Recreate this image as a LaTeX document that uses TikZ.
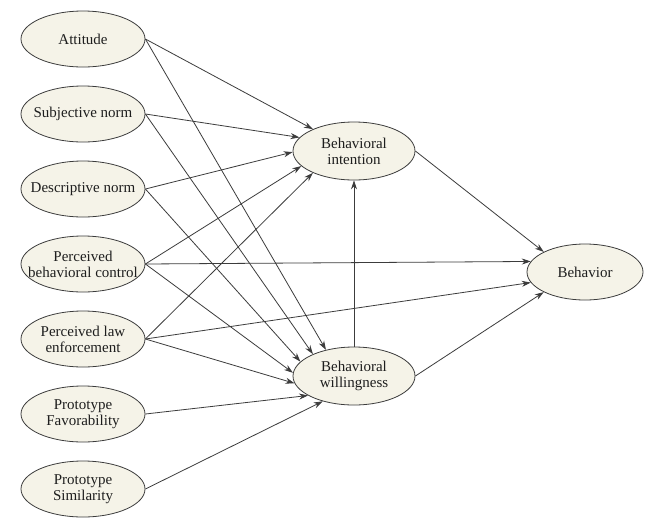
\documentclass[tikz,border=0pt]{standalone}
\usepackage{fontspec}
\setmainfont{Liberation Serif}
\usetikzlibrary{shapes.geometric,arrows.meta}
\definecolor{fillc}{RGB}{245,243,232}
\definecolor{linec}{RGB}{60,60,60}
\definecolor{textc}{RGB}{30,30,30}
\begin{document}
\begin{tikzpicture}[x=1pt,y=-1pt,
  txt/.style={align=center,text=textc,inner sep=0pt,
    font=\fontsize{15}{16}\selectfont},
  var/.style={ellipse,draw=linec,fill=fillc,line width=0.8pt,inner sep=0pt,
    minimum width=124pt,minimum height=56pt},
  big/.style={var,minimum width=122pt,minimum height=58pt},
  arr/.style={draw=linec,line width=0.8pt,-{Stealth[length=9pt,width=6pt]}}]
\fill[white] (0,0) rectangle (651,528);
\useasboundingbox (0,0) rectangle (651,528);
\node[var,label={[txt]center:{Attitude}}] (att) at (83,39) {};
\node[var,label={[txt]center:{Subjective norm}}] (sn) at (83,114) {};
\node[var,label={[txt]center:{Descriptive norm}}] (dn) at (83,189) {};
\node[var,label={[txt]center:{Perceived\\behavioral control}}] (pbc) at (83,264) {};
\node[var,label={[txt]center:{Perceived law\\enforcement}}] (ple) at (83,339) {};
\node[var,label={[txt]center:{Prototype\\Favorability}}] (pf) at (83,414) {};
\node[var,label={[txt]center:{Prototype\\Similarity}}] (ps) at (83,489) {};
\node[big,label={[txt]center:{Behavioral\\intention}}] (bi) at (354,151) {};
\node[big,label={[txt]center:{Behavioral\\willingness}}] (bw) at (354,376) {};
\node[var,minimum width=116pt,minimum height=56pt,label={[txt]center:{Behavior}}] (beh) at (585,272) {};
% to intention
\draw[arr] (att.east) -- (bi.152);
\draw[arr] (sn.east) -- (bi.166);
\draw[arr] (dn.east) -- (bi.181);
\draw[arr] (pbc.east) -- (bi.196);
\draw[arr] (ple.east) -- (bi.208);
% to willingness
\draw[arr] (att.east) -- (bw.137);
\draw[arr] (sn.east) -- (bw.152);
\draw[arr] (dn.east) -- (bw.165);
\draw[arr] (pbc.east) -- (bw.177);
\draw[arr] (ple.east) -- (bw.187);
\draw[arr] (pf.east) -- (bw.203);
\draw[arr] (ps.east) -- (bw.219);
% to behavior
\draw[arr] (bi.east) -- (beh.154);
\draw[arr] (pbc.east) -- (beh.169);
\draw[arr] (ple.east) -- (beh.191);
\draw[arr] (bw.east) -- (beh.206);
% willingness to intention
\draw[arr] (bw.north) -- (bi.south);
\end{tikzpicture}
\end{document}
